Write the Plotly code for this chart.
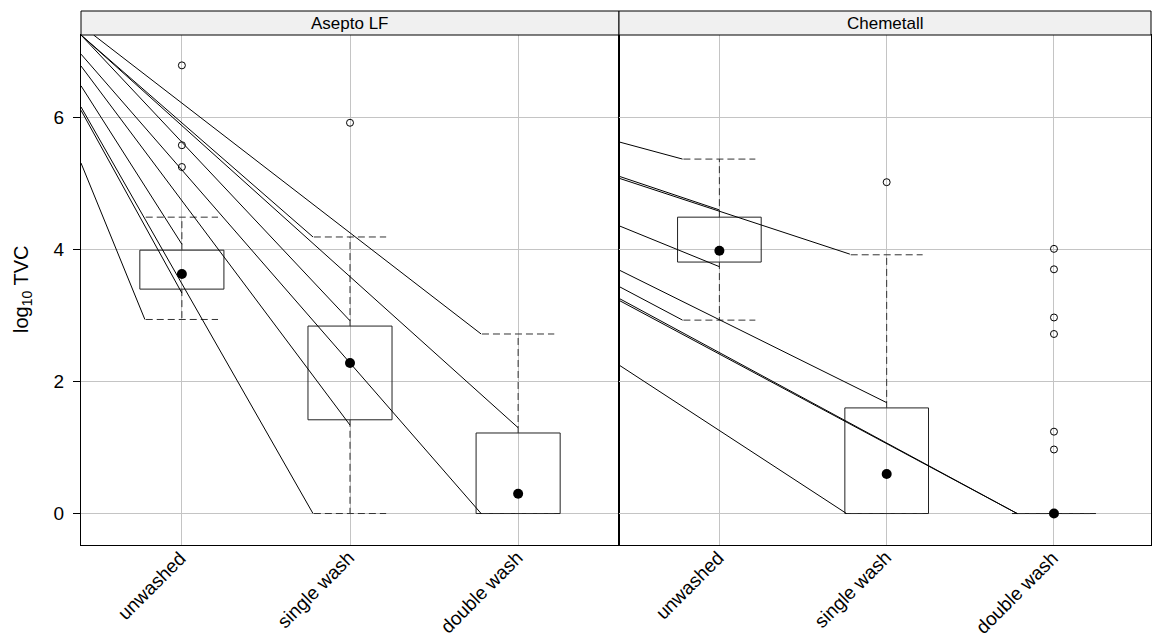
import plotly.graph_objects as go

W, H = 1152, 643

categories = ["unwashed", "single wash", "double wash"]
panels = ["Asepto LF", "Chemetall"]
cat_pos = [1, 2, 3]

# box statistics per panel (unwashed, single wash, double wash)
asepto_q1 = [3.40, 1.42, 0.00]
asepto_med = [3.63, 2.28, 0.30]
asepto_q3 = [3.99, 2.84, 1.22]
asepto_lo = [2.94, 0.00, 0.00]
asepto_hi = [4.49, 4.19, 2.72]
asepto_out = [[6.79, 5.58, 5.25], [5.92], []]

chem_q1 = [3.81, 0.00, 0.00]
chem_med = [3.98, 0.60, 0.00]
chem_q3 = [4.49, 1.60, 0.00]
chem_lo = [2.93, 0.00, 0.00]
chem_hi = [5.37, 3.92, 0.00]
chem_out = [[], [5.02], [4.01, 3.70, 2.97, 2.72, 1.24, 0.97]]

# sample lines (start -> end) per panel
asepto_x0 = [0.40, 0.40, 0.40, 0.40, 0.40, 0.40, 0.40, 0.475, 0.40, 0.40]
asepto_y0 = [5.31, 6.48, 6.11, 7.25, 6.16, 6.78, 7.25, 7.25, 7.25, 6.96]
asepto_x1 = [0.78, 1.00, 1.00, 1.78, 1.78, 2.00, 2.00, 2.78, 3.00, 2.78]
asepto_y1 = [2.94, 4.08, 3.34, 4.19, 0.00, 1.34, 2.92, 2.72, 1.30, 0.00]

chem_x0 = [0.40, 0.40, 0.40, 0.40, 0.40, 0.40, 0.40, 0.40, 0.40]
chem_y0 = [5.63, 5.11, 5.08, 4.36, 3.69, 3.44, 3.26, 3.23, 2.25]
chem_x1 = [0.78, 1.00, 1.78, 1.00, 2.00, 0.78, 2.78, 2.78, 1.76]
chem_y1 = [5.37, 4.60, 3.93, 3.74, 1.68, 2.93, 0.00, 0.00, 0.00]

BOX_HALF = 0.25
CAP_HALF = 0.215
DASH = "7px,4px"

fig = go.Figure()


def add_panel(xa, ya, q1, med, q3, lo, hi, outs, lx0, ly0, lx1, ly1):
    # boxes
    bx, by = [], []
    for c, a, b in zip(cat_pos, q1, q3):
        bx += [c - BOX_HALF, c + BOX_HALF, c + BOX_HALF, c - BOX_HALF, c - BOX_HALF, None]
        by += [a, a, b, b, a, None]
    fig.add_trace(go.Scatter(x=bx, y=by, mode="lines", xaxis=xa, yaxis=ya,
                             line=dict(color="#222222", width=1), showlegend=False,
                             hoverinfo="skip"))
    # whiskers
    wx, wy = [], []
    for c, a, b, l, h in zip(cat_pos, q1, q3, lo, hi):
        wx += [c, c, None, c - CAP_HALF, c + CAP_HALF, None]
        wy += [b, h, None, h, h, None]
        wx += [c, c, None, c - CAP_HALF, c + CAP_HALF, None]
        wy += [a, l, None, l, l, None]
    fig.add_trace(go.Scatter(x=wx, y=wy, mode="lines", xaxis=xa, yaxis=ya,
                             line=dict(color="#333333", width=1, dash=DASH),
                             showlegend=False, hoverinfo="skip"))
    # sample lines
    sx, sy = [], []
    for a, b, c, d in zip(lx0, ly0, lx1, ly1):
        sx += [a, c, None]
        sy += [b, d, None]
    fig.add_trace(go.Scatter(x=sx, y=sy, mode="lines", xaxis=xa, yaxis=ya,
                             line=dict(color="#000000", width=1),
                             showlegend=False, hoverinfo="skip"))
    # outliers
    ox, oy = [], []
    for c, vals in zip(cat_pos, outs):
        ox += [c] * len(vals)
        oy += vals
    fig.add_trace(go.Scatter(x=ox, y=oy, mode="markers", xaxis=xa, yaxis=ya,
                             marker=dict(symbol="circle-open", size=7,
                                         color="#000000", line=dict(width=1)),
                             showlegend=False, hoverinfo="skip", cliponaxis=False))
    # medians
    fig.add_trace(go.Scatter(x=cat_pos, y=med, mode="markers", xaxis=xa, yaxis=ya,
                             marker=dict(symbol="circle", size=10, color="#000000"),
                             showlegend=False, hoverinfo="skip", cliponaxis=False))


add_panel("x", "y", asepto_q1, asepto_med, asepto_q3, asepto_lo, asepto_hi,
          asepto_out, asepto_x0, asepto_y0, asepto_x1, asepto_y1)
add_panel("x2", "y2", chem_q1, chem_med, chem_q3, chem_lo, chem_hi,
          chem_out, chem_x0, chem_y0, chem_x1, chem_y1)

FONT = "Liberation Sans, Arial, sans-serif"
GRID = "#c4c4c4"
p_left, p_mid, p_right = 81, 619, 1151
p_top, p_bot = 35, 545
strip_top = 11
ydom = [1 - p_bot / H, 1 - p_top / H]
yrange = [-0.477, 7.25]

xcommon = dict(tickvals=cat_pos, showticklabels=False,
               showgrid=True, gridcolor=GRID, gridwidth=1, zeroline=False,
               showline=True, linecolor="#000000", linewidth=1, mirror=True,
               automargin=False, ticks="")
ycommon = dict(range=yrange, domain=ydom, tickvals=[0, 2, 4, 6],
               showgrid=True, gridcolor=GRID, gridwidth=1, zeroline=False,
               automargin=False,
               showline=True, linecolor="#000000", linewidth=1, mirror=True)

fig.update_layout(
    width=W, height=H,
    margin=dict(l=0, r=0, t=0, b=0, autoexpand=False),
    paper_bgcolor="white", plot_bgcolor="white",
    xaxis=dict(domain=[p_left / W, p_mid / W], range=[0.4, 3.6], anchor="y", **xcommon),
    xaxis2=dict(domain=[p_mid / W, p_right / W], range=[0.4, 3.58], anchor="y2", **xcommon),
    yaxis=dict(anchor="x", ticks="outside", ticklen=7, tickcolor="#000000",
               ticklabelstandoff=5,
               tickfont=dict(family=FONT, size=19, color="#000000"), **ycommon),
    yaxis2=dict(anchor="x2", matches="y", showticklabels=False, ticks="", **ycommon),
    font=dict(family=FONT, color="#000000"),
)

# rotated category labels under each panel
for xref in ["x", "x2"]:
    for c, lab in zip(cat_pos, categories):
        fig.add_annotation(text=lab, xref=xref, yref="paper", x=c, y=1 - 548 / H,
                           xanchor="right", yanchor="top", textangle=-45,
                           xshift=11, yshift=4, showarrow=False,
                           font=dict(family=FONT, size=19, color="#000000"))

# strips
for name, x0, x1 in [(panels[0], p_left, p_mid), (panels[1], p_mid, p_right)]:
    fig.add_shape(type="rect", xref="paper", yref="paper",
                  x0=x0 / W, x1=x1 / W, y0=1 - p_top / H, y1=1 - strip_top / H,
                  fillcolor="#f0f0f0", line=dict(color="#000000", width=1), layer="above")
    fig.add_annotation(text=name, xref="paper", yref="paper",
                       x=(x0 + x1) / 2 / W, y=1 - (p_top + strip_top) / 2 / H,
                       xanchor="center", yanchor="middle", showarrow=False,
                       font=dict(family=FONT, size=17, color="#000000"))

# y title
fig.add_annotation(text="log<sub>10</sub> TVC", xref="paper", yref="paper",
                   x=23 / W, y=1 - (p_top + p_bot) / 2 / H, textangle=-90,
                   xanchor="center", yanchor="middle", showarrow=False,
                   font=dict(family=FONT, size=20, color="#000000"))

fig.write_html("out.html")
